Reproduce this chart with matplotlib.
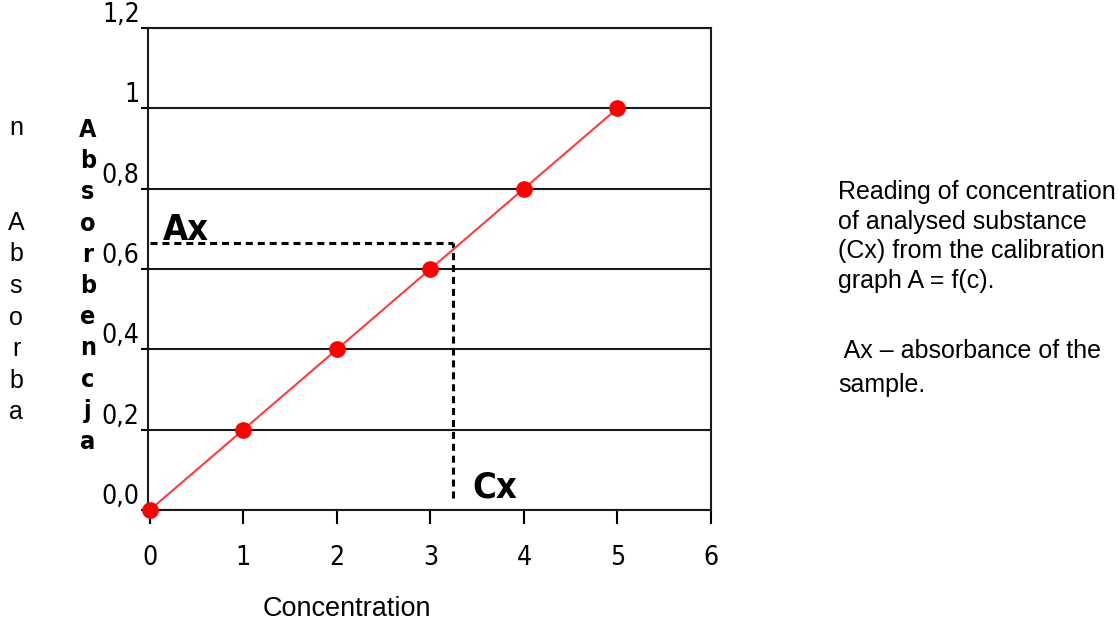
import numpy as np
import matplotlib.pyplot as plt

# calibration data
conc = [0, 1, 2, 3, 4, 5]
absorb = [0.0, 0.2, 0.4, 0.6, 0.8, 1.0]

# sample reading
ax_val = 0.665
cx_val = 3.24

xticks = [0, 1, 2, 3, 4, 5, 6]
yticks = [0.0, 0.2, 0.4, 0.6, 0.8, 1.0, 1.2]
ytick_labels = ['0,0', '0,2', '0,4', '0,6', '0,8', '1', '1,2']

narrow = ['DejaVu Sans']
plain = ['Liberation Sans', 'DejaVu Sans']

fig = plt.figure(figsize=(11.18, 6.22), dpi=100)
ax = fig.add_axes([148/1118, 1 - 510/622, (711-148)/1118, (510-28)/622])

ax.plot(conc, absorb, color='#ff3b3b', lw=1.5, zorder=3)
ax.plot(conc, absorb, 'o', color='#ff0000', ms=11, zorder=4, clip_on=False)

# dashed reading lines
ax.plot([0, cx_val], [ax_val, ax_val], color='black', lw=2.2, ls=(0, (2.3, 1.6)), zorder=2)
ax.plot([cx_val, cx_val], [0.03, ax_val], color='black', lw=2.2, ls=(0, (2.3, 1.6)), zorder=2)

ax.text(0.14, ax_val + 0.008, 'Ax', fontsize=26, fontweight='bold', family=narrow,
        stretch='condensed', ha='left', va='baseline')
ax.text(cx_val + 0.21, 0.03, 'Cx', fontsize=26, fontweight='bold', family=narrow,
        stretch='condensed', ha='left', va='baseline')

ax.set_xlim(-0.02, 6)
ax.set_ylim(0, 1.2)
ax.set_xticks(xticks)
ax.set_xticklabels([str(v) for v in xticks], family=narrow, stretch='condensed', fontsize=19)
ax.set_yticks(yticks)
ax.set_yticklabels(ytick_labels, family=narrow, stretch='condensed', fontsize=19)
for lab in ax.get_yticklabels():
    lab.set_va('bottom')

ax.tick_params(axis='x', direction='out', length=10, width=1.5, pad=15)
ax.tick_params(axis='y', direction='out', length=5, width=1.5, pad=1)
ax.yaxis.grid(True, color='#1a1a1a', lw=1.5)
ax.set_axisbelow(True)
for s in ax.spines.values():
    s.set_linewidth(1.5)
    s.set_color('#1a1a1a')

ax.set_xlabel('Concentration', family=plain, fontsize=19.5)
ax.xaxis.set_label_coords((347 - 148) / 563, -(596 - 510) / 482)

# vertical axis label, letters stacked
for i, ch in enumerate('Absorbencja'):
    fig.text(88/1118, 1 - (130 + i*31.2)/622, ch, family=narrow, fontweight='bold',
             stretch='condensed', fontsize=18, ha='center', va='center')

# stray letters at the far left
stray = ['n', '', '', 'A', 'b', 's', 'o', 'r', 'b', 'a']
for i, ch in enumerate(stray):
    fig.text(16/1118, 1 - (128 + i*31.6)/622, ch, family=plain,
             fontsize=18, ha='center', va='center')

fig.text(838/1118, 1 - 180/622,
         'Reading of concentration\nof analysed substance\n(Cx) from the calibration\ngraph A = f(c).',
         family=plain, fontsize=18, ha='left', va='top', linespacing=1.3)
fig.text(838/1118, 1 - 339/622, ' Ax \u2013 absorbance of the\nsample.',
         family=plain, fontsize=18, ha='left', va='top', linespacing=1.55)

fig.savefig('out.png', dpi=100)
